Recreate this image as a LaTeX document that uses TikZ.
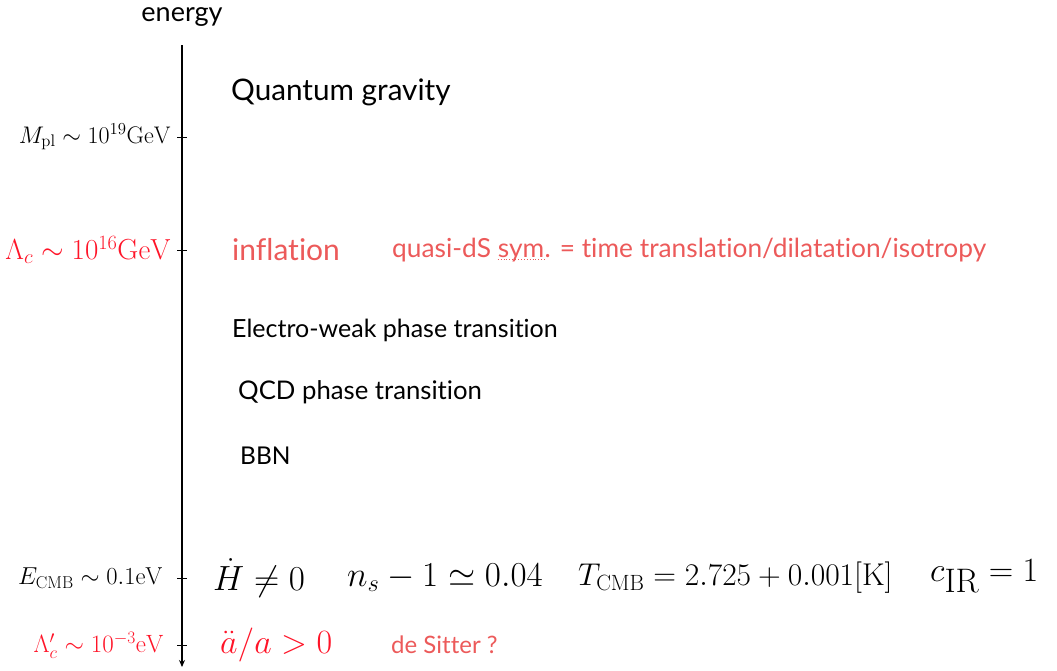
\RequirePackage{fix-cm}
\documentclass[tikz,border=0pt]{standalone}
\usepackage[no-math]{fontspec}
\setmainfont[Ligatures=NoCommon]{Lato}
\usetikzlibrary{arrows.meta}
\definecolor{mred}{RGB}{255,20,40}
\definecolor{lred}{RGB}{236,90,90}
\tikzset{
  lbl/.style={anchor=east, inner sep=0pt, font=\fontsize{24}{28}\selectfont},
  txt/.style={anchor=west, inner sep=0pt},
  tick/.style={line width=1pt},
  qfont/.style={text=lred, inner sep=0pt, anchor=base west, font=\fontsize{26.3}{30}\selectfont},
}
\begin{document}
\begin{tikzpicture}[x=1pt,y=-1pt]
\useasboundingbox (0,0) rectangle (1057,670);
% axis
\coordinate (top) at (182,45);
\coordinate (bot) at (182,667);
\draw[line width=1.3pt,-{Stealth[length=7pt,width=6pt]}] (top) -- (bot);
\node[inner sep=0pt, font=\fontsize{27}{30}\selectfont] (energy) at (182,17) {energy};
% ticks
\foreach \n/\y in {t1/137,t2/250,t3/578,t4/645}{
  \coordinate (\n) at (182,\y);
  \draw[tick] ([xshift=-5pt]\n) -- ([xshift=5pt]\n);
}
% left labels
\node[lbl] (mpl) at (171,137) {$M_{\mathrm{pl}}\sim10^{19}\mathrm{GeV}$};
\node[lbl, text=mred, font=\fontsize{29}{34}\selectfont] (lc) at (171,250) {$\Lambda_c\sim10^{16}\mathrm{GeV}$};
\node[lbl, font=\fontsize{24.5}{28}\selectfont] (ecmb) at (163,578) {$E_{\mathrm{CMB}}\sim0.1\mathrm{eV}$};
\node[lbl, text=mred, font=\fontsize{25}{28}\selectfont] (lcp) at (164,645) {$\Lambda_c'\sim10^{-3}\mathrm{eV}$};
% right texts
\node[txt, font=\fontsize{29.7}{34}\selectfont] (qg) at (231,92) {Quantum gravity};
\node[txt, text=lred, font=\fontsize{30}{34}\selectfont] (infl) at (232,250) {inflation};
\node[qfont] (qds) at (392,257) {quasi-dS};
\node[qfont] (sym) at ([xshift=6.5pt]qds.base east) {sym};
\node[qfont] (qdsr) at (sym.base east) {. = time translation/dilatation/isotropy};
\draw[lred, line width=0.9pt, dotted] ([yshift=-2pt]sym.base west) -- ([yshift=-2pt]sym.base east);
\node[txt, font=\fontsize{25}{28}\selectfont] (ew) at (232,330) {Electro-weak phase transition};
\node[txt, font=\fontsize{25.7}{28}\selectfont] (qcd) at (238,392) {QCD phase transition};
\node[txt, font=\fontsize{24.5}{28}\selectfont] (bbn) at (240,456) {BBN};
% bottom equations
\node[txt, font=\fontsize{35}{40}\selectfont] (hdot) at (213,578) {$\dot H\neq0$};
\node[txt, font=\fontsize{35}{40}\selectfont] (ns) at (347,578) {$n_s-1\simeq0.04$};
\node[txt, font=\fontsize{31.5}{36}\selectfont] (tcmb) at (578,578) {$T_{\mathrm{CMB}}=2.725+0.001[\mathrm{K}]$};
\node[txt, font=\fontsize{34}{38}\selectfont] (cir) at (930,576) {$c_{\textstyle\mathrm{IR}}=1$};
\node[txt, text=mred, font=\fontsize{34}{38}\selectfont] (add) at (220,645) {$\ddot a/a>0$};
\node[txt, text=lred, font=\fontsize{24}{28}\selectfont] (ds) at (391,645) {de Sitter ?};
\end{tikzpicture}
\end{document}
